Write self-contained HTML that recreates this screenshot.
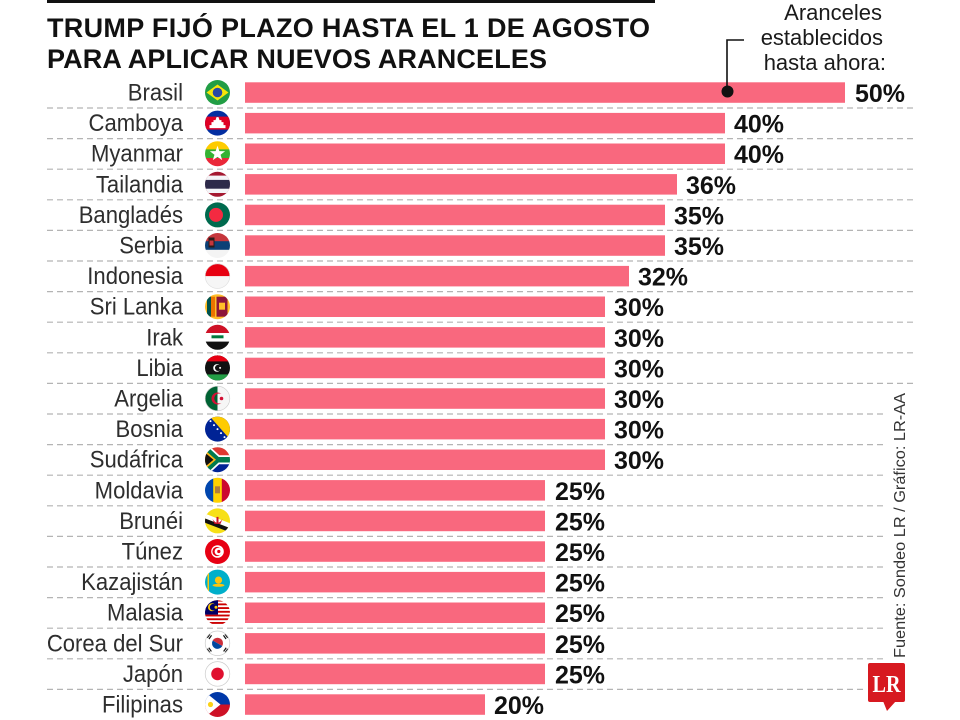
<!DOCTYPE html>
<html><head><meta charset="utf-8"><style>
html,body{margin:0;padding:0;background:#fff;}
svg{display:block;}
.lab{font-family:"Liberation Sans",sans-serif;font-size:24px;fill:#2e2e2e;}
.val{font-family:"Liberation Sans",sans-serif;font-size:25px;font-weight:bold;fill:#111;}
</style></head><body>
<svg width="960" height="720" viewBox="0 0 960 720" xmlns="http://www.w3.org/2000/svg">
<defs><clipPath id="c"><circle cx="0" cy="0" r="12.5"/></clipPath></defs>
<rect x="0" y="0" width="960" height="720" fill="#fff"/>
<rect x="47" y="0" width="608" height="3" fill="#111"/>
<g font-family="Liberation Sans, sans-serif" font-weight="bold" font-size="27" fill="#111">
<text x="47" y="37" textLength="603" lengthAdjust="spacing">TRUMP FIJÓ PLAZO HASTA EL 1 DE AGOSTO</text>
<text x="47" y="68" textLength="500" lengthAdjust="spacing">PARA APLICAR NUEVOS ARANCELES</text>
</g>
<g font-family="Liberation Sans, sans-serif" font-size="22" fill="#1a1a1a" text-anchor="end">
<text x="882" y="20">Aranceles</text>
<text x="883" y="45">establecidos</text>
<text x="886" y="70">hasta ahora:</text>
</g>
<!-- dashed lines -->
<g stroke="#b4b4b4" stroke-width="1.2" stroke-dasharray="6 4" fill="none">
<line x1="47" y1="108" x2="913" y2="108"/>
<line x1="47" y1="138.6" x2="913" y2="138.6"/>
<line x1="47" y1="169.2" x2="913" y2="169.2"/>
<line x1="47" y1="199.8" x2="913" y2="199.8"/>
<line x1="47" y1="230.4" x2="913" y2="230.4"/>
<line x1="47" y1="261" x2="913" y2="261"/>
<line x1="47" y1="291.6" x2="913" y2="291.6"/>
<line x1="47" y1="322.2" x2="913" y2="322.2"/>
<line x1="47" y1="352.8" x2="913" y2="352.8"/>
<line x1="47" y1="383.4" x2="913" y2="383.4"/>
<line x1="47" y1="414" x2="887" y2="414"/>
<line x1="47" y1="444.6" x2="887" y2="444.6"/>
<line x1="47" y1="475.2" x2="887" y2="475.2"/>
<line x1="47" y1="505.8" x2="887" y2="505.8"/>
<line x1="47" y1="536.4" x2="887" y2="536.4"/>
<line x1="47" y1="567" x2="887" y2="567"/>
<line x1="47" y1="597.6" x2="887" y2="597.6"/>
<line x1="47" y1="628.2" x2="887" y2="628.2"/>
<line x1="47" y1="658.8" x2="887" y2="658.8"/>
<line x1="47" y1="689.4" x2="866" y2="689.4"/>
</g>
<!-- bars -->
<g fill="#f9687e">
<rect x="245" y="82.3" width="600" height="20.5"/>
<rect x="245" y="112.9" width="480" height="20.5"/>
<rect x="245" y="143.5" width="480" height="20.5"/>
<rect x="245" y="174.1" width="432" height="20.5"/>
<rect x="245" y="204.7" width="420" height="20.5"/>
<rect x="245" y="235.3" width="420" height="20.5"/>
<rect x="245" y="265.9" width="384" height="20.5"/>
<rect x="245" y="296.5" width="360" height="20.5"/>
<rect x="245" y="327.1" width="360" height="20.5"/>
<rect x="245" y="357.7" width="360" height="20.5"/>
<rect x="245" y="388.3" width="360" height="20.5"/>
<rect x="245" y="418.9" width="360" height="20.5"/>
<rect x="245" y="449.5" width="360" height="20.5"/>
<rect x="245" y="480.1" width="300" height="20.5"/>
<rect x="245" y="510.7" width="300" height="20.5"/>
<rect x="245" y="541.3" width="300" height="20.5"/>
<rect x="245" y="571.9" width="300" height="20.5"/>
<rect x="245" y="602.5" width="300" height="20.5"/>
<rect x="245" y="633.1" width="300" height="20.5"/>
<rect x="245" y="663.7" width="300" height="20.5"/>
<rect x="245" y="694.3" width="240" height="20.5"/>
</g>
<!-- leader -->
<polyline points="744,40 727,40 727,91" fill="none" stroke="#111" stroke-width="1.6"/>
<circle cx="727.5" cy="91.5" r="6" fill="#111"/>
<!-- labels -->
<g class="lab" text-anchor="end">
<text transform="translate(183,100.5) scale(0.92,1)">Brasil</text>
<text transform="translate(183,131.1) scale(0.92,1)">Camboya</text>
<text transform="translate(183,161.7) scale(0.92,1)">Myanmar</text>
<text transform="translate(183,192.3) scale(0.92,1)">Tailandia</text>
<text transform="translate(183,222.9) scale(0.92,1)">Bangladés</text>
<text transform="translate(183,253.5) scale(0.92,1)">Serbia</text>
<text transform="translate(183,284.1) scale(0.92,1)">Indonesia</text>
<text transform="translate(183,314.7) scale(0.92,1)">Sri Lanka</text>
<text transform="translate(183,345.3) scale(0.92,1)">Irak</text>
<text transform="translate(183,375.9) scale(0.92,1)">Libia</text>
<text transform="translate(183,406.5) scale(0.92,1)">Argelia</text>
<text transform="translate(183,437.1) scale(0.92,1)">Bosnia</text>
<text transform="translate(183,467.7) scale(0.92,1)">Sudáfrica</text>
<text transform="translate(183,498.3) scale(0.92,1)">Moldavia</text>
<text transform="translate(183,528.9) scale(0.92,1)">Brunéi</text>
<text transform="translate(183,559.5) scale(0.92,1)">Túnez</text>
<text transform="translate(183,590.1) scale(0.92,1)">Kazajistán</text>
<text transform="translate(183,620.7) scale(0.92,1)">Malasia</text>
<text transform="translate(183,651.3) scale(0.92,1)">Corea del Sur</text>
<text transform="translate(183,681.9) scale(0.92,1)">Japón</text>
<text transform="translate(183,712.5) scale(0.92,1)">Filipinas</text>
</g>
<!-- values -->
<g class="val">
<text x="855" y="102">50%</text>
<text x="734" y="132.6">40%</text>
<text x="734" y="163.2">40%</text>
<text x="686" y="193.8">36%</text>
<text x="674" y="224.4">35%</text>
<text x="674" y="255">35%</text>
<text x="638" y="285.6">32%</text>
<text x="614" y="316.2">30%</text>
<text x="614" y="346.8">30%</text>
<text x="614" y="377.4">30%</text>
<text x="614" y="408">30%</text>
<text x="614" y="438.6">30%</text>
<text x="614" y="469.2">30%</text>
<text x="555" y="499.8">25%</text>
<text x="555" y="530.4">25%</text>
<text x="555" y="561">25%</text>
<text x="555" y="591.6">25%</text>
<text x="555" y="622.2">25%</text>
<text x="555" y="652.8">25%</text>
<text x="555" y="683.4">25%</text>
<text x="494" y="714">20%</text>
</g>
<!-- flags -->
<!-- Brasil -->
<g transform="translate(217.5,92.5)" clip-path="url(#c)">
<rect x="-13" y="-13" width="26" height="26" fill="#229e45"/>
<polygon points="-11,0 0,-8 11,0 0,8" fill="#f8e509"/>
<circle r="4.8" fill="#2b49a3"/>
</g>
<!-- Camboya -->
<g transform="translate(217.5,123.1)" clip-path="url(#c)">
<rect x="-13" y="-13" width="26" height="26" fill="#032ea1"/>
<rect x="-13" y="-6.5" width="26" height="13" fill="#e00025"/>
<polygon points="-8,5 8,5 8,2 6,2 6,-1 4,-1 4,-3 2,-3 1,-6 -1,-6 -2,-3 -4,-3 -4,-1 -6,-1 -6,2 -8,2" fill="#fff"/>
</g>
<!-- Myanmar -->
<g transform="translate(217.5,153.7)" clip-path="url(#c)">
<rect x="-13" y="-13" width="26" height="9" fill="#fecb00"/>
<rect x="-13" y="-4.3" width="26" height="9" fill="#34b233"/>
<rect x="-13" y="4.3" width="26" height="9" fill="#ea2839"/>
<polygon points="0,-8 1.88,-2.59 7.61,-2.47 3.04,0.99 4.70,6.47 0,3.2 -4.70,6.47 -3.04,0.99 -7.61,-2.47 -1.88,-2.59" fill="#fff"/>
</g>
<!-- Tailandia -->
<g transform="translate(217.5,184.3)" clip-path="url(#c)">
<rect x="-13" y="-13" width="26" height="26" fill="#a51931"/>
<rect x="-13" y="-8.7" width="26" height="17.4" fill="#f4f5f8"/>
<rect x="-13" y="-4.4" width="26" height="8.8" fill="#2d2a4a"/>
</g>
<!-- Bangladés -->
<g transform="translate(217.5,214.9)" clip-path="url(#c)">
<rect x="-13" y="-13" width="26" height="26" fill="#006a4e"/>
<circle cx="-1.5" cy="0" r="7" fill="#f42a41"/>
</g>
<!-- Serbia -->
<g transform="translate(217.5,245.5)" clip-path="url(#c)">
<rect x="-13" y="-13" width="26" height="9" fill="#c6363c"/>
<rect x="-13" y="-4.3" width="26" height="9" fill="#0c4076"/>
<rect x="-13" y="4.3" width="26" height="9" fill="#f4f4f4"/>
<rect x="-9" y="-8" width="6" height="10" fill="#2a1a1a"/>
<rect x="-8" y="-5" width="4" height="5" fill="#c6363c"/>
</g>
<!-- Indonesia -->
<g transform="translate(217.5,276.1)" clip-path="url(#c)">
<rect x="-13" y="-13" width="26" height="26" fill="#f6f6f6"/>
<rect x="-13" y="-13" width="26" height="13" fill="#e70011"/>
</g>
<circle cx="217.5" cy="276.1" r="12.3" fill="none" stroke="#ddd" stroke-width="0.6"/>
<!-- Sri Lanka -->
<g transform="translate(217.5,306.7)" clip-path="url(#c)">
<rect x="-13" y="-13" width="26" height="26" fill="#ffbe29"/>
<rect x="-10.5" y="-10" width="4" height="20" fill="#00534e"/>
<rect x="-6.5" y="-10" width="4" height="20" fill="#eb7400"/>
<rect x="-1" y="-10" width="11" height="20" fill="#8d153a"/>
<rect x="1.5" y="-4" width="6" height="7" fill="#ffbe29"/>
</g>
<!-- Irak -->
<g transform="translate(217.5,337.3)" clip-path="url(#c)">
<rect x="-13" y="-13" width="26" height="9" fill="#ce1126"/>
<rect x="-13" y="-4.3" width="26" height="9" fill="#fff"/>
<rect x="-13" y="4.3" width="26" height="9" fill="#111"/>
<rect x="-6" y="-2" width="12" height="3" fill="#007a3d"/>
</g>
<!-- Libia -->
<g transform="translate(217.5,367.9)" clip-path="url(#c)">
<rect x="-13" y="-13" width="26" height="26" fill="#111"/>
<rect x="-13" y="-13" width="26" height="6.5" fill="#e70013"/>
<rect x="-13" y="6.5" width="26" height="6.5" fill="#239e46"/>
<circle cx="-0.5" cy="0" r="3.8" fill="#fff"/>
<circle cx="0.6" cy="0" r="3.1" fill="#111"/>
<circle cx="2.6" cy="0" r="1" fill="#fff"/>
</g>
<!-- Argelia -->
<g transform="translate(217.5,398.5)" clip-path="url(#c)">
<rect x="-13" y="-13" width="26" height="26" fill="#f6f6f6"/>
<rect x="-13" y="-13" width="13" height="26" fill="#006233"/>
<path d="M 3.956,-4.51 A 6 6 0 1 0 3.956,4.51 A 5 5 0 1 1 3.956,-4.51 Z" fill="#d21034"/>
<circle cx="4" cy="0" r="1.8" fill="#d21034"/>
</g>
<circle cx="217.5" cy="398.5" r="12.3" fill="none" stroke="#ccc" stroke-width="0.6"/>
<!-- Bosnia -->
<g transform="translate(217.5,429.1)" clip-path="url(#c)">
<rect x="-13" y="-13" width="26" height="26" fill="#002395"/>
<polygon points="-8,-13 14,-13 14,12" fill="#fecb00"/>
<g fill="#fff"><circle cx="-7" cy="-8" r="1"/><circle cx="-3.5" cy="-4" r="1"/><circle cx="0" cy="0" r="1"/><circle cx="3.5" cy="4" r="1"/><circle cx="7" cy="8" r="1"/></g>
</g>
<!-- Sudáfrica -->
<g transform="translate(217.5,459.7)" clip-path="url(#c)">
<rect x="-13" y="-13" width="26" height="13" fill="#de3831"/>
<rect x="-13" y="0" width="26" height="13" fill="#002395"/>
<path d="M-14,-13 L0,0 L14,0 M-14,13 L0,0" stroke="#fff" stroke-width="9" fill="none"/>
<path d="M-14,-13 L0,0 L14,0 M-14,13 L0,0" stroke="#007a4d" stroke-width="5.5" fill="none"/>
<polygon points="-13,-10 -1.5,0 -13,10" fill="#ffb612"/>
<polygon points="-13,-7.5 -4,0 -13,7.5" fill="#111"/>
</g>
<!-- Moldavia -->
<g transform="translate(217.5,490.3)" clip-path="url(#c)">
<rect x="-13" y="-13" width="9" height="26" fill="#0046ae"/>
<rect x="-4.3" y="-13" width="9" height="26" fill="#ffd200"/>
<rect x="4.3" y="-13" width="9" height="26" fill="#cc092f"/>
<rect x="-2.5" y="-4" width="5" height="7" fill="#b07e3a"/>
</g>
<!-- Brunéi -->
<g transform="translate(217.5,520.9)" clip-path="url(#c)">
<rect x="-13" y="-13" width="26" height="26" fill="#f7e017"/>
<line x1="-13" y1="-5" x2="13" y2="5" stroke="#fff" stroke-width="4.5"/>
<line x1="-13" y1="-0.5" x2="13" y2="9.5" stroke="#111" stroke-width="4"/>
<path d="M-5,-2 Q0,6 5,-2 L3,3 L-3,3 Z" fill="#cf1126"/>
<rect x="-1" y="-4" width="2" height="7" fill="#cf1126"/>
</g>
<!-- Túnez -->
<g transform="translate(217.5,551.5)" clip-path="url(#c)">
<rect x="-13" y="-13" width="26" height="26" fill="#e70013"/>
<circle r="6.3" fill="#fff"/>
<circle cx="-0.5" r="4.6" fill="#e70013"/>
<circle cx="0.8" r="3.7" fill="#fff"/>
<circle cx="1.3" r="1.6" fill="#e70013"/>
</g>
<!-- Kazajistán -->
<g transform="translate(217.5,582.1)" clip-path="url(#c)">
<rect x="-13" y="-13" width="26" height="26" fill="#00afca"/>
<circle cx="1" cy="-2" r="3.6" fill="#fec50c"/>
<ellipse cx="1" cy="3.2" rx="6" ry="1.5" fill="#fec50c"/>
<rect x="-10" y="-9" width="1.5" height="18" fill="#fec50c"/>
</g>
<!-- Malasia -->
<g transform="translate(217.5,612.7)" clip-path="url(#c)">
<rect x="-13" y="-13" width="26" height="26" fill="#fff"/>
<g fill="#cc0001">
<rect x="-13" y="-13" width="26" height="1.86"/>
<rect x="-13" y="-9.28" width="26" height="1.86"/>
<rect x="-13" y="-5.56" width="26" height="1.86"/>
<rect x="-13" y="-1.84" width="26" height="1.86"/>
<rect x="-13" y="1.88" width="26" height="1.86"/>
<rect x="-13" y="5.6" width="26" height="1.86"/>
<rect x="-13" y="9.32" width="26" height="1.86"/>
</g>
<rect x="-13" y="-13" width="13.5" height="14.9" fill="#010066"/>
<circle cx="-5.5" cy="-5.5" r="4" fill="#fc0"/>
<circle cx="-4.4" cy="-5.5" r="3.3" fill="#010066"/>
<circle cx="-1.5" cy="-5.5" r="1.5" fill="#fc0"/>
</g>
<!-- Corea del Sur -->
<g transform="translate(217.5,643.3)" clip-path="url(#c)">
<rect x="-13" y="-13" width="26" height="26" fill="#fff"/>
<path d="M-5.5,0 A5.5 5.5 0 0 1 5.5,0 Z" fill="#cd2e3a" transform="rotate(30)"/>
<path d="M-5.5,0 A5.5 5.5 0 0 0 5.5,0 Z" fill="#0047a0" transform="rotate(30)"/>
<g fill="#111">
<rect x="-10.5" y="-8.5" width="4.5" height="1.2" transform="rotate(-55 -8 -7)"/>
<rect x="-10.5" y="-6.5" width="4.5" height="1.2" transform="rotate(-55 -8 -7)"/>
<rect x="6" y="-8.5" width="4.5" height="1.2" transform="rotate(55 8 -7)"/>
<rect x="6" y="-6.5" width="4.5" height="1.2" transform="rotate(55 8 -7)"/>
<rect x="-10.5" y="5.5" width="4.5" height="1.2" transform="rotate(55 -8 7)"/>
<rect x="-10.5" y="7.5" width="4.5" height="1.2" transform="rotate(55 -8 7)"/>
<rect x="6" y="5.5" width="4.5" height="1.2" transform="rotate(-55 8 7)"/>
<rect x="6" y="7.5" width="4.5" height="1.2" transform="rotate(-55 8 7)"/>
</g>
</g>
<circle cx="217.5" cy="643.3" r="12.3" fill="none" stroke="#ccc" stroke-width="0.7"/>
<!-- Japón -->
<g transform="translate(217.5,673.9)" clip-path="url(#c)">
<rect x="-13" y="-13" width="26" height="26" fill="#fff"/>
<circle r="6.3" fill="#e0102f"/>
</g>
<circle cx="217.5" cy="673.9" r="12.3" fill="none" stroke="#ccc" stroke-width="0.7"/>
<!-- Filipinas -->
<g transform="translate(217.5,704.5)" clip-path="url(#c)">
<rect x="-13" y="-13" width="26" height="13" fill="#0038a8"/>
<rect x="-13" y="0" width="26" height="13" fill="#ce1126"/>
<polygon points="-13,-13 3,0 -13,13" fill="#fff"/>
<circle cx="-7" cy="0" r="2.6" fill="#fcd116"/>
</g>
<!-- source -->
<text transform="translate(905,658) rotate(-90)" font-family="Liberation Sans, sans-serif" font-size="16" fill="#333" textLength="265" lengthAdjust="spacingAndGlyphs">Fuente: Sondeo LR / Gráfico: LR-AA</text>
<!-- LR logo -->
<rect x="868" y="663" width="37" height="39" rx="2" fill="#d71920"/>
<polygon points="883,701 896,701 887,711" fill="#d71920"/>
<text x="886.5" y="692" text-anchor="middle" font-family="Liberation Serif, serif" font-weight="bold" font-size="24" fill="#fff" textLength="28" lengthAdjust="spacingAndGlyphs">LR</text>
</svg>
</body></html>
